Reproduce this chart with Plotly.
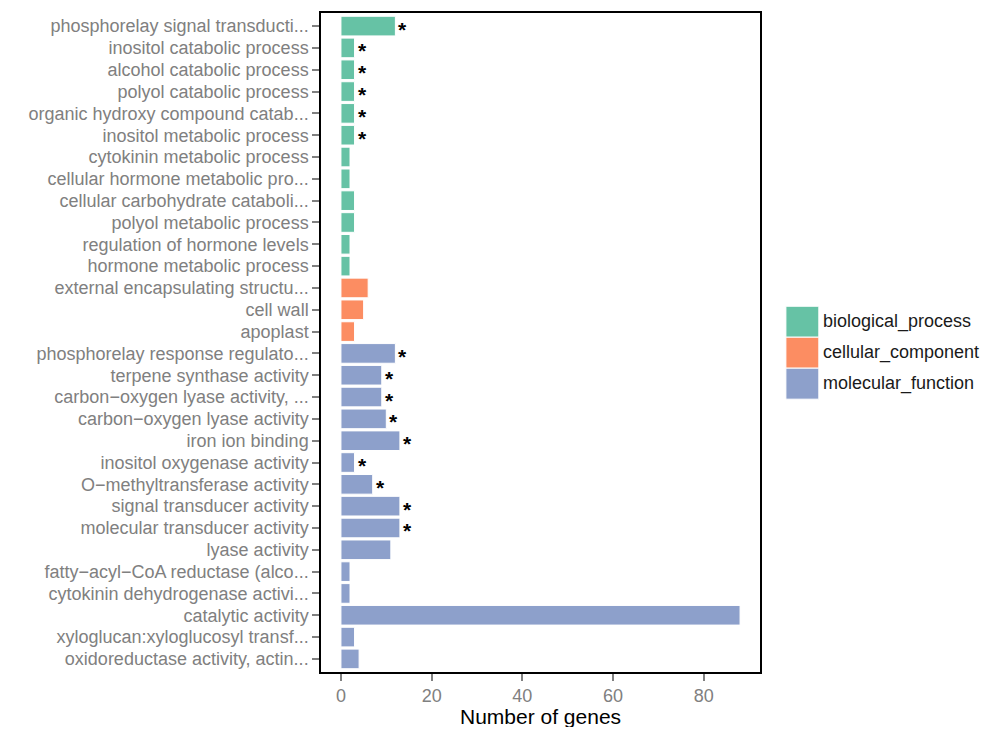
import plotly.graph_objects as go

# GO terms (top to bottom), ontology, gene counts, significance
terms = [
    "phosphorelay signal transducti...",
    "inositol catabolic process",
    "alcohol catabolic process",
    "polyol catabolic process",
    "organic hydroxy compound catab...",
    "inositol metabolic process",
    "cytokinin metabolic process",
    "cellular hormone metabolic pro...",
    "cellular carbohydrate cataboli...",
    "polyol metabolic process",
    "regulation of hormone levels",
    "hormone metabolic process",
    "external encapsulating structu...",
    "cell wall",
    "apoplast",
    "phosphorelay response regulato...",
    "terpene synthase activity",
    "carbon\u2212oxygen lyase activity, ...",
    "carbon\u2212oxygen lyase activity",
    "iron ion binding",
    "inositol oxygenase activity",
    "O\u2212methyltransferase activity",
    "signal transducer activity",
    "molecular transducer activity",
    "lyase activity",
    "fatty\u2212acyl\u2212CoA reductase (alco...",
    "cytokinin dehydrogenase activi...",
    "catalytic activity",
    "xyloglucan:xyloglucosyl transf...",
    "oxidoreductase activity, actin...",
]
ontology = ["biological_process"] * 12 + ["cellular_component"] * 3 + ["molecular_function"] * 15
counts = [12, 3, 3, 3, 3, 3, 2, 2, 3, 3, 2, 2,
          6, 5, 3,
          12, 9, 9, 10, 13, 3, 7, 13, 13, 11, 2, 2, 88, 3, 4]
significant = [1, 1, 1, 1, 1, 1, 0, 0, 0, 0, 0, 0,
               0, 0, 0,
               1, 1, 1, 1, 1, 1, 1, 1, 1, 0, 0, 0, 0, 0, 0]

groups = ["biological_process", "cellular_component", "molecular_function"]
colors = {"biological_process": "#66C2A5",
          "cellular_component": "#FC8D62",
          "molecular_function": "#8DA0CB"}

fig = go.Figure()

for g in groups:
    idx = [i for i, o in enumerate(ontology) if o == g]
    fig.add_trace(go.Bar(
        x=[counts[i] for i in idx],
        y=[terms[i] for i in idx],
        orientation="h",
        width=0.9,
        marker=dict(color=colors[g], line=dict(color="white", width=1)),
        name=g,
        showlegend=False,
    ))

# significance stars next to the bar ends
for t, c, s in zip(terms, counts, significant):
    if s:
        fig.add_annotation(x=c, y=t, text="<b>*</b>", showarrow=False,
                           xanchor="left", yanchor="middle", xshift=1, yshift=-3,
                           font=dict(size=21, color="black", family="Liberation Sans"))

# legend drawn by hand (ggplot-like big keys)
key_x0, key_x1 = 1.059, 1.134
key_top, key_h = 0.555, 0.047
for k, g in enumerate(groups):
    y1 = key_top - k * key_h
    y0 = y1 - key_h
    fig.add_shape(type="rect", xref="paper", yref="paper",
                  x0=key_x0, x1=key_x1, y0=y0, y1=y1,
                  fillcolor=colors[g], line=dict(color="white", width=1))
    fig.add_annotation(xref="paper", yref="paper", x=key_x1 + 0.004, y=(y0 + y1) / 2,
                       text=g, showarrow=False, xanchor="left", yanchor="middle",
                       font=dict(size=18, color="#1a1a1a", family="Liberation Sans"))

# x axis title
fig.add_annotation(xref="paper", yref="paper", x=0.5, y=-0.067,
                   text="Number of genes", showarrow=False,
                   xanchor="center", yanchor="middle",
                   font=dict(size=21, color="black", family="Liberation Sans"))

fig.update_layout(
    width=986, height=719,
    margin=dict(l=313, r=234, t=5, b=55),
    plot_bgcolor="white",
    paper_bgcolor="white",
    font=dict(family="Liberation Sans"),
    xaxis=dict(
        range=[-4.4, 92.4],
        tickvals=[0, 20, 40, 60, 80],
        automargin=False,
        showgrid=False, zeroline=False,
        showline=True, mirror=True, linecolor="black", linewidth=1.5,
        ticks="outside", ticklen=7, tickwidth=2, tickcolor="#808080",
        tickfont=dict(size=18, color="#808080"),
    ),
    yaxis=dict(
        categoryorder="array", categoryarray=terms,
        range=[len(terms) - 0.4, -0.6],
        tickmode="array", tickvals=terms, ticktext=terms,
        automargin=False,
        showgrid=False, zeroline=False,
        showline=True, mirror=True, linecolor="black", linewidth=1.5,
        ticks="outside", ticklen=7, tickwidth=2, tickcolor="#808080",
        tickfont=dict(size=18, color="#808080"),
    ),
)

fig.write_html("out.html")
